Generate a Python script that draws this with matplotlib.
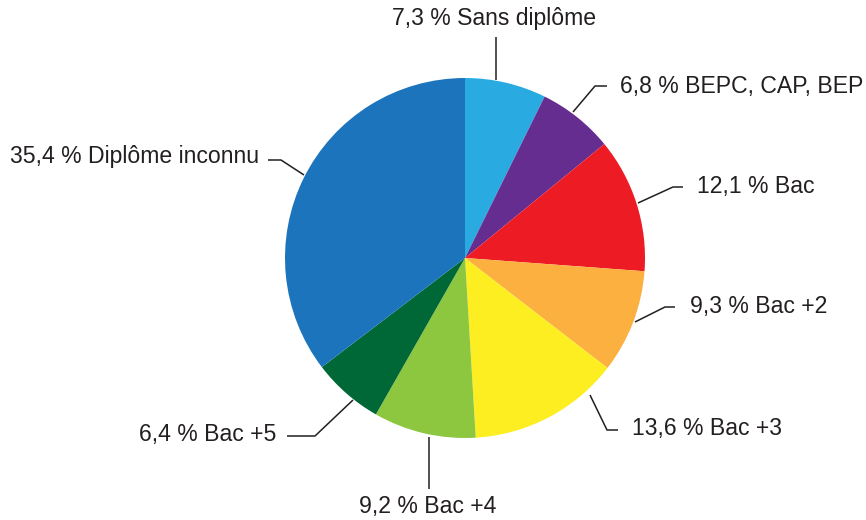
import matplotlib
matplotlib.use("Agg")
import matplotlib.pyplot as plt

# Data
categories = ["Sans diplôme", "BEPC, CAP, BEP", "Bac", "Bac +2", "Bac +3",
              "Bac +4", "Bac +5", "Diplôme inconnu"]
values = [7.3, 6.8, 12.1, 9.3, 13.6, 9.2, 6.4, 35.4]
value_labels = ["7,3", "6,8", "12,1", "9,3", "13,6", "9,2", "6,4", "35,4"]
colors = ["#29ABE2", "#662D91", "#ED1C24", "#FBB040", "#FCEE21",
          "#8DC63F", "#006837", "#1C75BC"]

# Layout (pixel coordinates, y downward) for leader lines and labels
W, H = 866, 520
center_px = (465, 258)
radius_px = 180
leaders = [
    [(496, 80), (496, 37)],
    [(573, 112), (595, 86), (607, 86)],
    [(638, 203), (673, 187), (683, 187)],
    [(635, 322), (665, 307), (675, 307)],
    [(590, 395), (607, 430), (618, 430)],
    [(429, 437), (429, 489)],
    [(353, 400), (315, 436), (287, 436)],
    [(304, 175), (281, 160), (268, 160)],
]
text_pos = [
    (494, 19, "center"),
    (620, 86, "left"),
    (697, 187, "left"),
    (690, 307, "left"),
    (632, 428, "left"),
    (428, 507, "center"),
    (276, 434, "right"),
    (259, 156, "right"),
]

plt.rcParams['font.family'] = ['Liberation Sans', 'DejaVu Sans']
fig = plt.figure(figsize=(W / 100, H / 100), dpi=100)
ax = fig.add_axes([0, 0, 1, 1])
ax.set_xlim(0, W)
ax.set_ylim(0, H)
ax.set_aspect("equal")
ax.axis("off")

ax.pie(values, colors=colors, startangle=90, counterclock=False,
       center=(center_px[0], H - center_px[1]), radius=radius_px,
       wedgeprops=dict(linewidth=0), frame=False)
ax.set_xlim(0, W)
ax.set_ylim(0, H)

txt_color = "#231F20"
for pts, (tx, ty, ha), cat, vl in zip(leaders, text_pos, categories, value_labels):
    xs = [p[0] for p in pts]
    ys = [H - p[1] for p in pts]
    ax.plot(xs, ys, color=txt_color, lw=1.1, solid_capstyle="butt")
    ax.text(tx, H - ty, f"{vl} % {cat}", ha=ha, va="center",
            fontsize=16.6, color=txt_color)

fig.savefig("out.png", dpi=100)
